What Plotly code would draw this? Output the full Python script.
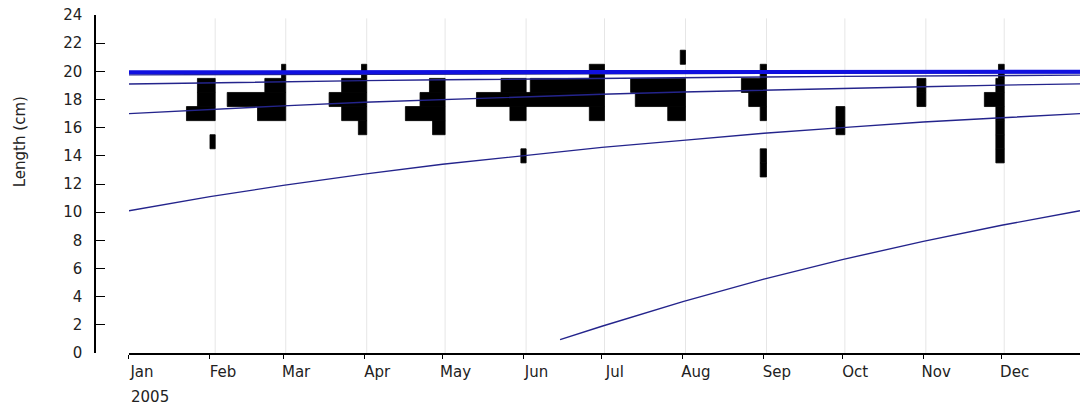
import pandas as pd
import plotly.graph_objects as go

# ---- Length-frequency samples, 2005 -------------------------------------
sample_dates = ["2005-02-03", "2005-03-02", "2005-04-02", "2005-05-02",
                "2005-06-02", "2005-07-02", "2005-08-02", "2005-09-02",
                "2005-10-02", "2005-11-02", "2005-12-02"]

# length classes (cm, class mid-points) and relative frequencies per sample
feb_len = [15, 17, 18, 19]
feb_freq = [1.0, 5.5, 3.4, 3.4]
mar_len = [17, 18, 19, 20]
mar_freq = [5.4, 11.2, 4.0, 0.8]
apr_len = [16, 17, 18, 19, 20]
apr_freq = [1.6, 4.8, 7.2, 4.8, 1.0]
may_len = [16, 17, 18, 19]
may_freq = [2.4, 7.6, 4.8, 3.0]
jun_len = [14, 17, 18, 19]
jun_freq = [1.0, 3.1, 9.5, 4.8]
jul_len = [17, 18, 19, 20]
jul_freq = [2.9, 15.3, 14.2, 2.9]
aug_len = [17, 18, 19, 21]
aug_freq = [3.4, 9.6, 10.5, 1.0]
sep_len = [13, 14, 17, 18, 19, 20]
sep_freq = [1.2, 1.2, 1.2, 3.4, 4.8, 1.2]
oct_len = [16, 17]
oct_freq = [1.7, 1.7]
nov_len = [18, 19]
nov_freq = [1.7, 1.7]
dec_len = [14, 15, 16, 17, 18, 19, 20]
dec_freq = [1.6, 1.6, 1.6, 1.6, 3.8, 1.6, 1.1]

samples = [
    (feb_len, feb_freq), (mar_len, mar_freq), (apr_len, apr_freq),
    (may_len, may_freq), (jun_len, jun_freq), (jul_len, jul_freq),
    (aug_len, aug_freq), (sep_len, sep_freq), (oct_len, oct_freq),
    (nov_len, nov_freq), (dec_len, dec_freq),
]

# ---- Growth curves (length in cm at each month) -------------------------
curve_dates = ["2005-01-01", "2005-02-01", "2005-03-01", "2005-04-01",
               "2005-05-01", "2005-06-01", "2005-07-01", "2005-08-01",
               "2005-09-01", "2005-10-01", "2005-11-01", "2005-12-01",
               "2005-12-31"]
cohort_old = [19.93, 19.93, 19.94, 19.94, 19.95, 19.95, 19.95, 19.96,
              19.96, 19.96, 19.97, 19.97, 19.97]
cohort_2001 = [19.75, 19.77, 19.78, 19.8, 19.81, 19.83, 19.84, 19.85,
               19.86, 19.87, 19.88, 19.89, 19.9]
cohort_2002 = [19.1, 19.2, 19.27, 19.34, 19.4, 19.46, 19.51, 19.56,
               19.6, 19.64, 19.67, 19.71, 19.73]
cohort_2003 = [17.0, 17.3, 17.55, 17.8, 18.0, 18.2, 18.37, 18.53,
               18.67, 18.8, 18.91, 19.02, 19.11]
cohort_2004 = [10.1, 11.1, 11.9, 12.7, 13.4, 14.0, 14.6, 15.1,
               15.6, 16.0, 16.4, 16.7, 17.0]
recruit_dates = ["2005-06-15", "2005-07-01", "2005-08-01", "2005-09-01",
                 "2005-10-01", "2005-11-01", "2005-12-01", "2005-12-31"]
cohort_2005 = [0.95, 1.9, 3.65, 5.25, 6.63, 7.93, 9.07, 10.1]

DAYS_PER_UNIT = 2.0          # horizontal extent of one frequency unit
MS_PER_DAY = 86400000.0

# Histogram bars drawn to the left of each sampling date
bar_y, bar_x, bar_base = [], [], []
for date, (lens, freqs) in zip(sample_dates, samples):
    t = pd.Timestamp(date)
    for L, f in zip(lens, freqs):
        days = f * DAYS_PER_UNIT
        bar_y.append(L)
        bar_x.append(days * MS_PER_DAY)
        bar_base.append((t - pd.Timedelta(days=days)).strftime("%Y-%m-%d %H:%M:%S"))

fig = go.Figure()

fig.add_trace(go.Bar(
    orientation="h", y=bar_y, x=bar_x, base=bar_base, width=1.0,
    marker=dict(color="black", line=dict(width=0.8, color="black")),
    showlegend=False, hoverinfo="skip",
))

thin = dict(color="#24248c", width=1.4)
for vals in (cohort_2001, cohort_2002, cohort_2003, cohort_2004):
    fig.add_trace(go.Scatter(x=curve_dates, y=vals, mode="lines", line=thin,
                             showlegend=False, hoverinfo="skip"))
fig.add_trace(go.Scatter(x=recruit_dates, y=cohort_2005, mode="lines", line=thin,
                         showlegend=False, hoverinfo="skip"))
fig.add_trace(go.Scatter(x=curve_dates, y=cohort_old, mode="lines",
                         line=dict(color="#1010e0", width=4),
                         showlegend=False, hoverinfo="skip"))

# faint vertical guides at the sampling dates
shapes = [dict(type="line", xref="x", yref="paper", x0=d, x1=d, y0=0, y1=0.99,
               line=dict(color="#e6e6e6", width=1), layer="below")
          for d in sample_dates]

font = dict(family="DejaVu Sans", size=15, color="#222222")

fig.update_layout(
    width=1080, height=405,
    margin=dict(l=95, r=0, t=15, b=52),
    paper_bgcolor="white", plot_bgcolor="white",
    barmode="overlay",
    font=font,
    shapes=shapes,
    xaxis=dict(
        type="date", domain=[0.0345, 1],
        range=["2005-01-01", "2005-12-31"],
        tick0="2005-01-01", dtick="M1", tickformat="%b",
        ticks="outside", ticklen=4, tickwidth=1.3, tickcolor="black",
        showline=True, linecolor="black", linewidth=1.5,
        showgrid=False, zeroline=False,
        ticklabelshift=13, tickfont=font,
    ),
    yaxis=dict(
        range=[0, 24], dtick=2, anchor="free", position=0,
        ticks="inside", ticklen=9, tickwidth=1.3, tickcolor="black",
        showline=True, linecolor="black", linewidth=1.5,
        showgrid=False, zeroline=False,
        ticklabelstandoff=9, tickfont=font,
    ),
    annotations=[
        dict(text="Length (cm)", textangle=-90, xref="paper", yref="paper",
             x=-0.076, y=0.624, xanchor="center", yanchor="middle",
             showarrow=False, font=font),
        dict(text="2005", xref="x", yref="paper", x="2005-01-01", y=-0.13,
             xanchor="left", yanchor="middle", showarrow=False, font=font),
    ],
)

fig.write_html("out.html")
